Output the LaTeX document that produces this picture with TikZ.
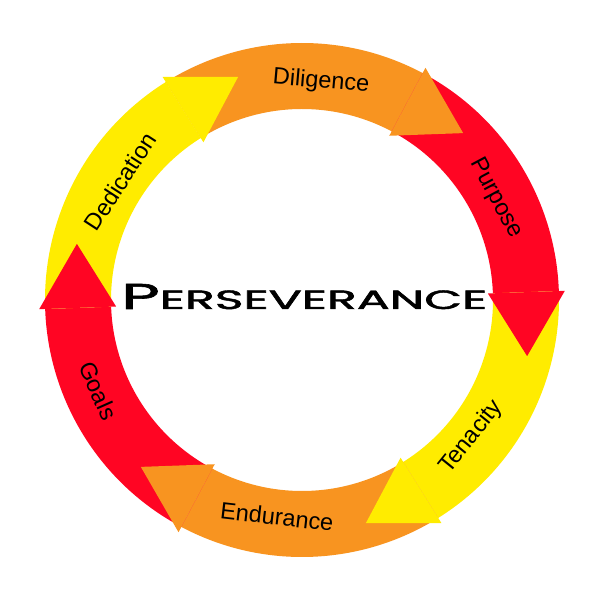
\documentclass[tikz,border=0pt]{standalone}
\usepackage{fontspec}
\setmainfont{Liberation Sans}
\newfontfamily\perfont[FakeBold=1.6]{Poppins}
\usepackage{graphicx}
\definecolor{dgRed}{RGB}{255,5,35}
\definecolor{dgOrange}{RGB}{248,148,32}
\definecolor{dgYellow}{RGB}{255,236,0}
\tikzset{
  lbl/.style={font=\fontsize{23.5}{23.5}\selectfont, text=black, inner sep=0pt},
}
\begin{document}
\begin{tikzpicture}[x=1pt,y=1pt]
\useasboundingbox (0,0) rectangle (600,600);
\fill[white] (0,0) rectangle (600,600);
\begin{scope}[shift={(302,300)}]
  % arrow bodies
  \foreach \b/\c in {62/dgOrange, 2/dgRed, -58/dgYellow, -118/dgOrange, -178/dgRed, -238/dgYellow}{
    \fill[\c] ({\b+60}:257) arc[start angle={\b+60}, end angle={\b}, radius=257]
      -- ({\b}:191) arc[start angle={\b}, end angle={\b+60}, radius=191] -- cycle;
  }
  % arrow heads
  \foreach \b/\c in {62/dgOrange, 2/dgRed, -58/dgYellow, -118/dgOrange, -178/dgRed, -238/dgYellow}{
    \fill[\c] ({\b}:186) -- ({\b}:263) -- ({\b-16}:232) -- cycle;
  }
  % labels
  \node[lbl, rotate=-5]   (dil) at (85:219)   {Diligence};
  \node[lbl, rotate=-62]  (pur) at (27.7:219) {Purpose};
  \node[lbl, rotate=51]   (ten) at (-39:218)  {Tenacity};
  \node[lbl, rotate=-6.6] (end) at (-96.6:218) {Endurance};
  \node[lbl, rotate=-66]  (goa) at (-156:223) {Goals};
  \node[lbl, rotate=57]   (ded) at (147:217)  {Dedication};
\end{scope}
\node[inner sep=0pt, anchor=base west] (title) at (121,291)
  {\resizebox{366pt}{25pt}{\perfont\fontsize{34}{34}\selectfont P\fontsize{25}{25}\selectfont ERSEVERANCE}};
\end{tikzpicture}
\end{document}
